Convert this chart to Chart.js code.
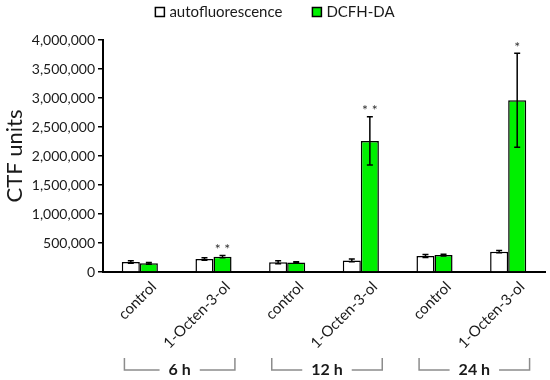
<!DOCTYPE html>
<html>
<head>
<meta charset="utf-8">
<script src="https://cdn.jsdelivr.net/npm/chart.js@4.4.1/dist/chart.umd.min.js"></script>
<style>
  body { margin: 0; background: #fff; }
  #wrap { width: 550px; height: 380px; }
</style>
</head>
<body>
<div id="wrap"><canvas id="ctfChart" width="550" height="380"></canvas></div>
<script>
const labels = ['control', '1-Octen-3-ol', 'control', '1-Octen-3-ol', 'control', '1-Octen-3-ol'];
const groupLabels = ['6 h', '12 h', '24 h'];
const autoValues = [172000, 224000, 167000, 200000, 276000, 350000];
const autoErrors = [20000, 20000, 25000, 22000, 25000, 20000];
const dcfhValues = [150000, 264000, 165000, 2260000, 293000, 2960000];
const dcfhErrors = [15000, 20000, 12000, 415000, 15000, 810000];
const dcfhStars = ['', '**', '', '**', '', '*'];

const fontFamily = 'Lato, "Open Sans", sans-serif';
const textColor = '#1a1a1a';

// legend, error bars, significance stars and the time brackets under the axis
const extrasPlugin = {
    id: 'extras',
    afterDatasetsDraw(chart) {
        const ctx = chart.ctx;
        const y = chart.scales.y;
        const x = chart.scales.x;
        const errs = [autoErrors, dcfhErrors];
        ctx.save();
        ctx.strokeStyle = '#000';
        ctx.lineWidth = 1.5;
        chart.data.datasets.forEach((ds, i) => {
            const meta = chart.getDatasetMeta(i);
            meta.data.forEach((bar, j) => {
                const v = ds.data[j];
                const e = errs[i][j];
                const top = y.getPixelForValue(v + e);
                const bot = y.getPixelForValue(v - e);
                ctx.beginPath();
                ctx.moveTo(bar.x, top);
                ctx.lineTo(bar.x, bot);
                ctx.moveTo(bar.x - 3, top);
                ctx.lineTo(bar.x + 3, top);
                ctx.moveTo(bar.x - 3, bot);
                ctx.lineTo(bar.x + 3, bot);
                ctx.stroke();
                if (i === 1 && dcfhStars[j]) {
                    ctx.fillStyle = '#333';
                    ctx.font = '14px ' + fontFamily;
                    ctx.textAlign = 'center';
                    ctx.textBaseline = 'middle';
                    ctx.fillText(dcfhStars[j].split('').join(' '), bar.x, top - 6);
                }
            });
        });

        // legend
        ctx.font = '15px ' + fontFamily;
        ctx.textAlign = 'left';
        ctx.textBaseline = 'middle';
        const box = 9, gap = 5, itemGap = 30, ly = 12;
        const widths = chart.data.datasets.map(ds => box + gap + ctx.measureText(ds.label).width);
        let lx = chart.width / 2 - (widths[0] + widths[1] + itemGap) / 2;
        chart.data.datasets.forEach((ds, i) => {
            ctx.fillStyle = ds.backgroundColor;
            ctx.fillRect(lx, ly - box / 2, box, box);
            ctx.strokeStyle = '#000';
            ctx.lineWidth = 1.5;
            ctx.strokeRect(lx, ly - box / 2, box, box);
            ctx.fillStyle = textColor;
            ctx.fillText(ds.label, lx + box + gap, ly);
            lx += widths[i] + itemGap;
        });

        const step = x.getPixelForValue(1) - x.getPixelForValue(0);
        const by = chart.chartArea.bottom + 86;
        const bh = 12;
        ctx.strokeStyle = '#8c8c8c';
        ctx.lineWidth = 1.5;
        ctx.font = 'bold 16px ' + fontFamily;
        ctx.fillStyle = textColor;
        ctx.textAlign = 'center';
        ctx.textBaseline = 'middle';
        groupLabels.forEach((g, k) => {
            const mid = (x.getPixelForValue(2 * k) + x.getPixelForValue(2 * k + 1)) / 2 + 3;
            const x1 = mid - step * 0.75;
            const x2 = mid + step * 0.75;
            const tw = ctx.measureText(g).width;
            ctx.beginPath();
            ctx.moveTo(x1, by);
            ctx.lineTo(x1, by + bh);
            ctx.lineTo(mid - tw / 2 - 9, by + bh);
            ctx.moveTo(mid + tw / 2 + 9, by + bh);
            ctx.lineTo(x2, by + bh);
            ctx.lineTo(x2, by);
            ctx.stroke();
            ctx.fillText(g, mid, by + bh);
        });
        ctx.restore();
    }
};

const ctx = document.getElementById('ctfChart');
new Chart(ctx, {
    type: 'bar',
    data: {
        labels: labels,
        datasets: [{
            label: 'autofluorescence',
            data: autoValues,
            backgroundColor: '#ffffff',
            borderColor: '#000',
            borderWidth: 1.5,
            categoryPercentage: 0.49,
            barPercentage: 1.0
        }, {
            label: 'DCFH-DA',
            data: dcfhValues,
            backgroundColor: '#00f000',
            borderColor: '#000',
            borderWidth: 1.5,
            categoryPercentage: 0.49,
            barPercentage: 1.0
        }]
    },
    options: {
        responsive: false,
        animation: false,
        layout: { padding: { top: 40, right: 5, left: 0, bottom: 0 } },
        plugins: {
            tooltip: { enabled: false },
            legend: { display: false }
        },
        scales: {
            x: {
                grid: { display: false },
                border: { display: true, color: '#000', width: 2 },
                ticks: {
                    color: textColor,
                    font: { family: fontFamily, size: 15 },
                    minRotation: 45,
                    maxRotation: 45,
                    labelOffset: 14,
                    padding: -2
                },
                afterFit(scale) { scale.height = 108; }
            },
            y: {
                min: 0,
                max: 4000000,
                grid: { drawOnChartArea: false, drawTicks: true, tickLength: 5, color: '#000', lineWidth: 1.5 },
                border: { display: true, color: '#000', width: 2 },
                ticks: {
                    stepSize: 500000,
                    color: textColor,
                    padding: 3,
                    font: { family: fontFamily, size: 14 },
                    callback: (v) => v.toLocaleString('en-US')
                },
                title: {
                    display: true,
                    text: 'CTF units',
                    color: textColor,
                    padding: { top: 2, bottom: 0 },
                    font: { family: fontFamily, size: 22 }
                },
                afterFit(scale) { scale.width = 103; }
            }
        }
    },
    plugins: [extrasPlugin]
});
</script>
</body>
</html>
